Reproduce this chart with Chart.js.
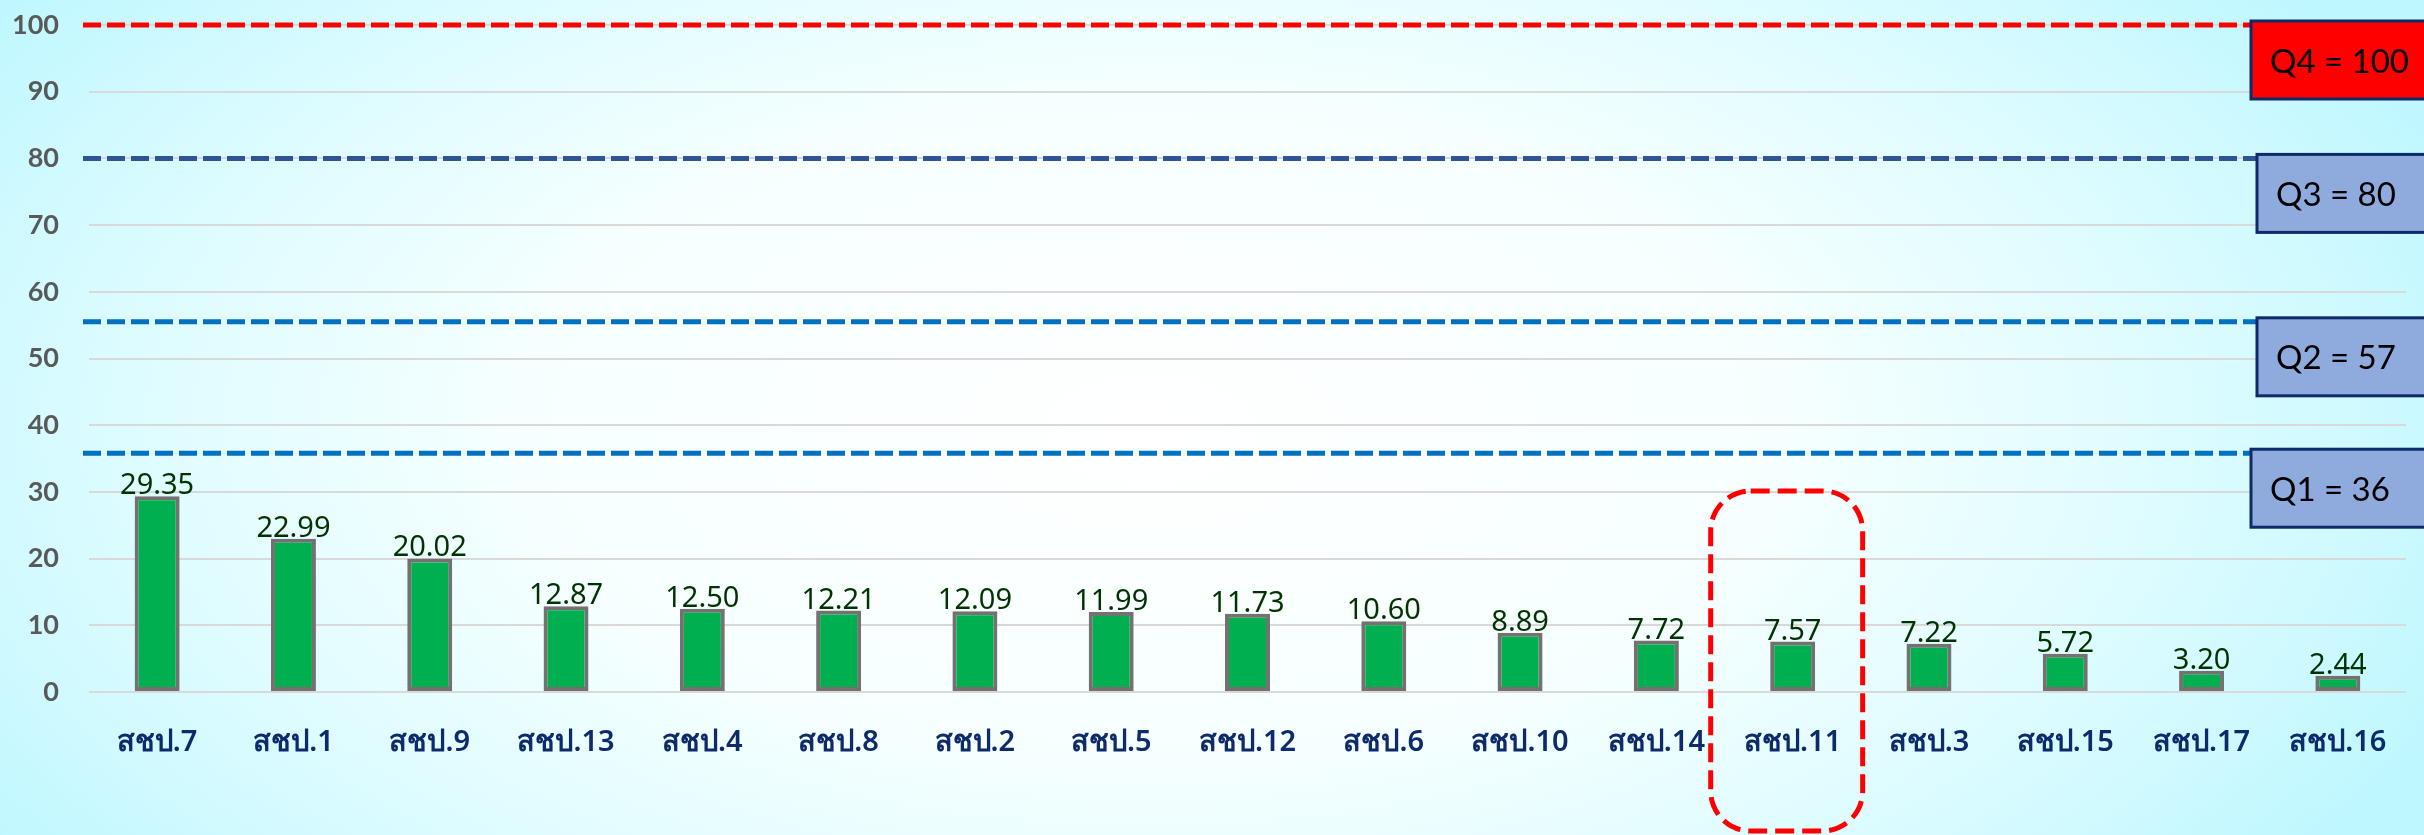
<!DOCTYPE html>
<html>
<head>
<meta charset="utf-8">
<script src="https://cdn.jsdelivr.net/npm/chart.js@4.4.1/dist/chart.umd.min.js"></script>
<style>
html,body{margin:0;padding:0;background:#ffffff;}
#wrap{width:2424px;height:835px;position:relative;}
</style>
</head>
<body>
<div id="wrap"><canvas id="c" width="2424" height="835"></canvas></div>
<script>
// ---- data ----
const categories = ['สชป.7','สชป.1','สชป.9','สชป.13','สชป.4','สชป.8','สชป.2','สชป.5','สชป.12','สชป.6','สชป.10','สชป.14','สชป.11','สชป.3','สชป.15','สชป.17','สชป.16'];
const scores = [29.35, 22.99, 20.02, 12.87, 12.50, 12.21, 12.09, 11.99, 11.73, 10.60, 8.89, 7.72, 7.57, 7.22, 5.72, 3.20, 2.44];
const quartileNames = ['Q1','Q2','Q3','Q4'];
const quartileValues = [36, 57, 80, 100];
const quartileLineLevels = [35.8, 55.5, 80, 100];
const quartileLineColors = ['#0070C0','#0070C0','#2F5597','#FF0000'];
const quartileBoxFills = ['#8FAADC','#8FAADC','#8FAADC','#FF0000'];
const highlightCategory = 'สชป.11';
const yTicks = [0,10,20,30,40,50,60,70,80,90,100];

const bgPlugin = {
  id: 'bg',
  beforeDraw(chart){
    const ctx = chart.ctx, w = chart.width, h = chart.height;
    ctx.save();
    ctx.fillStyle = '#ffffff';
    ctx.fillRect(0,0,w,h);
    ctx.translate(1150, 430);
    ctx.scale(1.9, 1);
    const g = ctx.createRadialGradient(0,0,0,0,0,740);
    g.addColorStop(0, '#ffffff');
    g.addColorStop(0.45, '#f6ffff');
    g.addColorStop(0.72, '#defcff');
    g.addColorStop(1, '#bff7ff');
    ctx.fillStyle = g;
    ctx.fillRect(-1000,-600,2000,1200);
    ctx.restore();
  }
};

const overlayPlugin = {
  id: 'overlay',
  afterDatasetsDraw(chart){
    const ctx = chart.ctx;
    const meta = chart.getDatasetMeta(0);
    ctx.save();
    ctx.font = '29px "Noto Sans", "DejaVu Sans", sans-serif';
    ctx.fillStyle = '#003300';
    ctx.textAlign = 'center';
    ctx.textBaseline = 'alphabetic';
    meta.data.forEach((bar, i) => {
      ctx.fillText(scores[i].toFixed(2), bar.x, bar.y - 2);
    });
    ctx.restore();
  },
  afterDraw(chart){
    const ctx = chart.ctx, ys = chart.scales.y, xs = chart.scales.x, area = chart.chartArea;
    // quartile dashed lines
    ctx.save();
    ctx.lineWidth = 5;
    ctx.setLineDash([18, 6]);
    quartileLineLevels.forEach((v, i) => {
      const y = ys.getPixelForValue(v);
      ctx.strokeStyle = quartileLineColors[i];
      ctx.beginPath();
      ctx.moveTo(area.left - 6, y);
      ctx.lineTo(area.right + 20, y);
      ctx.stroke();
    });
    ctx.restore();
    // quartile boxes
    const boxLeft = [2251, 2257, 2257, 2251];
    ctx.save();
    quartileLineLevels.forEach((v, i) => {
      const y = ys.getPixelForValue(v) - 4;
      const x = boxLeft[i];
      const w = chart.width - x + 10, h = 78;
      ctx.fillStyle = quartileBoxFills[i];
      ctx.fillRect(x, y, w, h);
      ctx.lineWidth = 3;
      ctx.strokeStyle = '#0D2B6B';
      ctx.strokeRect(x, y, w, h);
      ctx.fillStyle = '#000000';
      ctx.font = '33px Lato, "Open Sans", sans-serif';
      ctx.textAlign = 'left';
      ctx.textBaseline = 'middle';
      ctx.fillText(quartileNames[i] + ' = ' + quartileValues[i], x + 19, y + h/2 + 2);
    });
    ctx.restore();
    // highlight rounded dashed box
    const idx = categories.indexOf(highlightCategory);
    const cx = xs.getPixelForValue(idx) - 6;
    const cw = (area.right - area.left) / categories.length;
    const bw = cw * 1.115;
    const top = ys.getPixelForValue(30) - 1;
    const bottom = chart.height - 4;
    ctx.save();
    ctx.strokeStyle = '#FF0000';
    ctx.lineWidth = 5;
    ctx.setLineDash([19, 8]);
    ctx.beginPath();
    ctx.roundRect(cx - bw/2, top, bw, bottom - top, 40);
    ctx.stroke();
    ctx.restore();
  }
};

new Chart(document.getElementById('c'), {
  type: 'bar',
  data: {
    labels: categories,
    datasets: [{
      data: scores,
      backgroundColor: '#00B050',
      borderColor: '#767171',
      borderWidth: 4,
      borderSkipped: false,
      barPercentage: 0.33,
      categoryPercentage: 1.0
    }]
  },
  options: {
    responsive: false,
    animation: false,
    devicePixelRatio: 1,
    layout: { padding: { top: 25, right: 18, bottom: 0, left: 0 } },
    plugins: { legend: { display: false }, tooltip: { enabled: false } },
    scales: {
      x: {
        grid: { display: false, drawTicks: false },
        border: { display: false },
        ticks: {
          color: '#0D2B6B',
          font: { family: '"Noto Sans", Tahoma, "DejaVu Sans", sans-serif', size: 29, weight: '600' },
          padding: 33,
          maxRotation: 0,
          autoSkip: false
        },
        afterFit(scale){ scale.height = 143; }
      },
      y: {
        min: 0, max: 100,
        afterBuildTicks(scale){ scale.ticks = yTicks.map(v => ({ value: v })); },
        grid: { color: '#D9D9D9', lineWidth: 2, drawTicks: true, tickLength: 30, tickColor: 'rgba(0,0,0,0)' },
        border: { display: false },
        ticks: {
          color: '#595959',
          font: { family: 'Lato, "Open Sans", sans-serif', size: 27, weight: 'bold' },
          padding: 0
        },
        afterFit(scale){ scale.width = 89; }
      }
    }
  },
  plugins: [bgPlugin, overlayPlugin]
});
</script>
</body>
</html>
